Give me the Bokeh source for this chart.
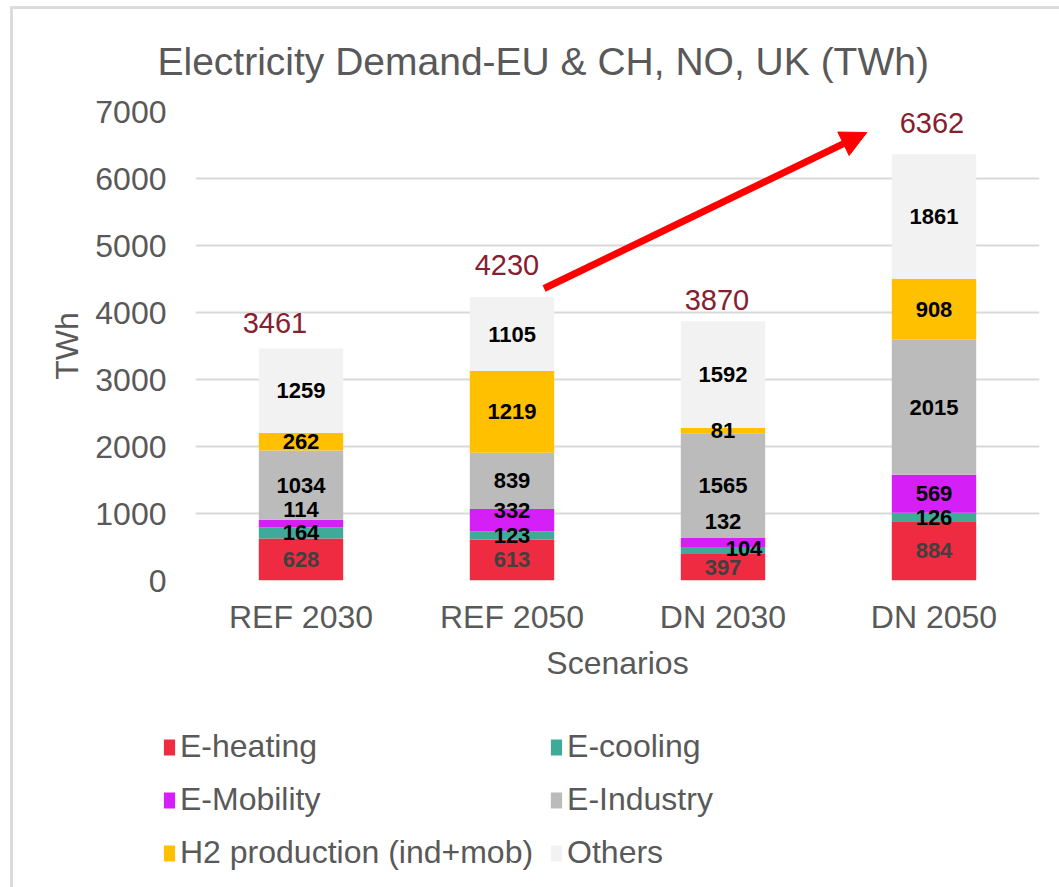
from bokeh.plotting import figure
from bokeh.layouts import column
from bokeh.models import (ColumnDataSource, Range1d, FactorRange, FixedTicker, Legend,
                          LegendItem, LabelSet, Arrow, NormalHead)
from bokeh.core.properties import value
from bokeh.embed import file_html
from bokeh.resources import INLINE

# ---------------- data ----------------
scenarios = ["REF 2030", "REF 2050", "DN 2030", "DN 2050"]
series = ["E-heating", "E-cooling", "E-Mobility", "E-Industry",
          "H2 production (ind+mob)", "Others"]
e_heating = [628, 613, 397, 884]
e_cooling = [164, 123, 104, 126]
e_mobility = [114, 332, 132, 569]
e_industry = [1034, 839, 1565, 2015]
h2_production = [262, 1219, 81, 908]
others = [1259, 1105, 1592, 1861]
totals = [3461, 4230, 3870, 6362]
y_ticks = [0, 1000, 2000, 3000, 4000, 5000, 6000, 7000]

# ---------------- style ----------------
colors = ["#EE2B41", "#3FAA98", "#D41FF6", "#BBBBBB", "#FFC000", "#F2F2F2"]
label_colors = ["#404040", "black", "black", "black", "black", "black"]
grey_text = "#595959"
total_color = "#862030"
FONT = "Liberation Sans"
nudges = {("REF 2030", "E-Mobility"): (0, -14),
          ("REF 2050", "E-Mobility"): (0, -10),
          ("DN 2030", "E-Mobility"): (0, -21),
          ("DN 2030", "E-cooling"): (21, -2)}
total_nudges = [(-26, 26), (-5, 32), (-6, 21), (-2, 31)]
legend_order = [0, 2, 4, 1, 3, 5]   # column-major fill -> row-wise reading

values = [e_heating, e_cooling, e_mobility, e_industry, h2_production, others]
keys = ["s%d" % i for i in range(len(series))]
data = {"scenario": scenarios}
for k, v in zip(keys, values):
    data[k] = v
src = ColumnDataSource(data)

W = 1046
p = figure(x_range=FactorRange(factors=scenarios), y_range=Range1d(0, 7000),
           width=W, height=700, output_backend="svg", toolbar_location=None,
           min_border_left=182, min_border_right=20, min_border_top=102,
           min_border_bottom=129, background_fill_color="white",
           border_fill_color="white")
p.outline_line_color = None

renderers = p.vbar_stack(keys, x="scenario", width=0.4, fill_color=colors,
                         line_color=None, source=src)

# segment labels
lx, ly, lt, lc, ldx, ldy = [], [], [], [], [], []
for j, sc in enumerate(scenarios):
    base = 0
    for i, name in enumerate(series):
        v = values[i][j]
        dx, dy = nudges.get((sc, name), (0, 0))
        lx.append(sc)
        ly.append(base + v / 2)
        lt.append(str(v))
        lc.append(label_colors[i])
        ldx.append(dx)
        ldy.append(dy)
        base += v
lsrc = ColumnDataSource(dict(x=lx, y=ly, text=lt, color=lc, dx=ldx, dy=ldy))
p.text(x="x", y="y", text="text", source=lsrc, text_color="color",
       x_offset="dx", y_offset="dy", text_align="center", text_baseline="middle",
       text_font=value(FONT), text_font_size="22px", text_font_style="bold")

# totals
tsrc = ColumnDataSource(dict(x=scenarios, y=totals, text=[str(t) for t in totals],
                             dx=[n[0] for n in total_nudges],
                             dy=[n[1] for n in total_nudges]))
p.add_layout(LabelSet(x="x", y="y", text="text", source=tsrc, x_offset="dx",
                      y_offset="dy", text_align="center", text_baseline="middle",
                      text_color=total_color, text_font=value(FONT),
                      text_font_size="29px"))

# arrow REF 2050 -> DN 2050
arrow = Arrow(end=NormalHead(size=26, fill_color="#FF0000", line_color="#FF0000"),
              x_start=1.5 + 0.152, y_start=totals[1] + 128,
              x_end=3.5 - 0.318, y_end=totals[3] + 325,
              line_color="#FF0000", line_width=7)
p.add_layout(arrow)

# title
p.title.text = "Electricity Demand-EU & CH, NO, UK (TWh)"
p.title.text_font = FONT
p.title.text_font_size = "39px"
p.title.text_font_style = "normal"
p.title.text_color = grey_text
p.title.align = "left"
p.title.offset = -38
p.title.standoff = 57

# axes
for ax in (p.xaxis[0], p.yaxis[0]):
    ax.axis_line_color = None
    ax.major_tick_line_color = None
    ax.minor_tick_line_color = None
    ax.major_label_text_font = FONT
    ax.major_label_text_font_size = "32px"
    ax.major_label_text_color = grey_text
    ax.axis_label_text_font = FONT
    ax.axis_label_text_font_size = "32px"
    ax.axis_label_text_font_style = "normal"
    ax.axis_label_text_color = grey_text
p.xaxis.axis_label = "Scenarios"
p.xaxis.major_label_standoff = 12
p.xaxis.axis_label_standoff = 7
p.yaxis.axis_label = "TWh"
p.yaxis.ticker = FixedTicker(ticks=y_ticks)
p.yaxis.major_label_standoff = 23
p.yaxis.axis_label_standoff = 7

p.xgrid.grid_line_color = None
p.ygrid.grid_line_color = "#D9D9D9"
p.ygrid.grid_line_width = 2

# legend strip under the chart (its bars lie outside its own y range,
# so only the legend is visible)
lg = figure(width=W, height=178, output_backend="svg", toolbar_location=None,
            x_range=FactorRange(factors=scenarios), y_range=Range1d(10000, 20000),
            min_border_left=0, min_border_right=0, min_border_top=0,
            min_border_bottom=0, background_fill_alpha=0, border_fill_alpha=0)
lg.outline_line_color = None
lg.axis.visible = False
lg.grid.visible = False
lg_renderers = lg.vbar_stack(keys, x="scenario", width=0.4, fill_color=colors,
                             line_color=None, source=src)
items = [LegendItem(label=series[i], renderers=[lg_renderers[i]]) for i in legend_order]
legend = Legend(items=items, ncols=2, location=(0, 16),
                label_text_font=FONT, label_text_font_size="32px",
                label_text_color=grey_text, glyph_width=14, glyph_height=20,
                label_height=37, label_standoff=4, spacing=16, padding=0, margin=0,
                border_line_color=None, background_fill_alpha=0)
lg.add_layout(legend, "center")
lg.styles = {"transform": "translateX(-33px)"}

layout = column(p, lg, spacing=0)
layout.styles = {"margin-left": "10px", "margin-top": "6px",
                 "border-left": "3px solid #DCDCDC", "border-top": "3px solid #DCDCDC"}

open("out.html", "w").write(file_html(layout, INLINE))
